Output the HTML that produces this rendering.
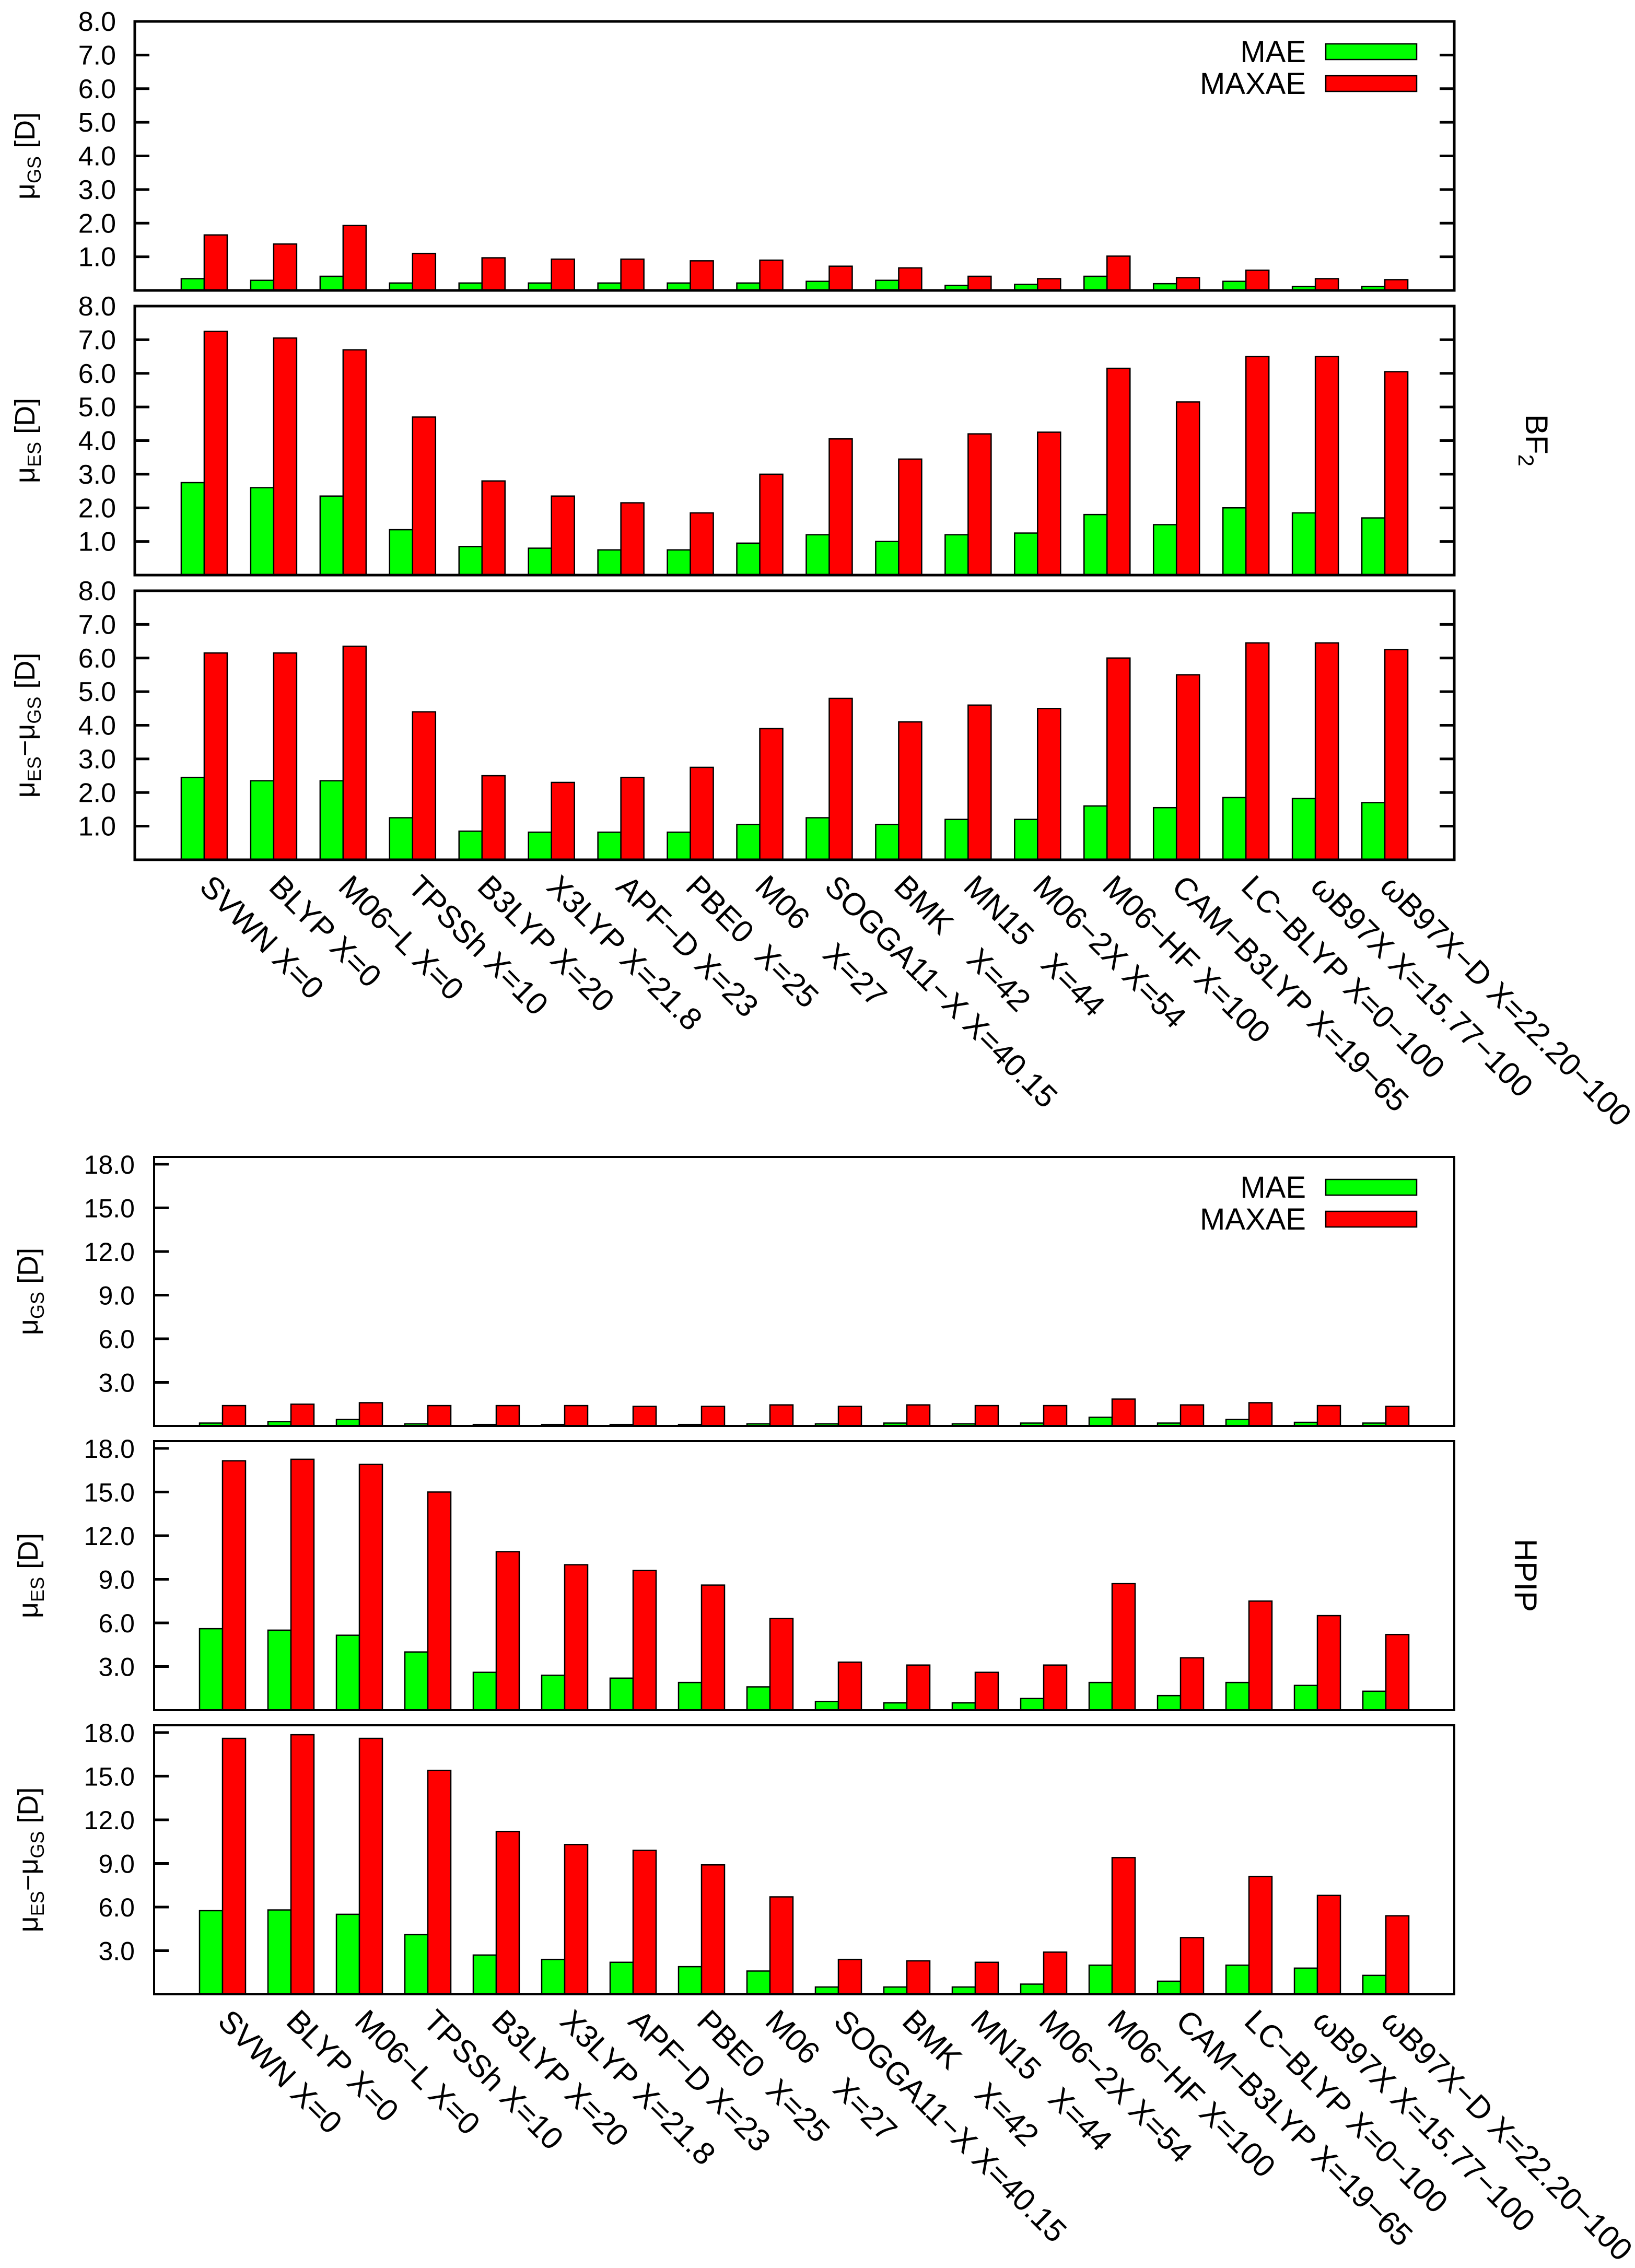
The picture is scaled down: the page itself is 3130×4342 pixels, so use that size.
<!DOCTYPE html>
<html><head><meta charset="utf-8"><style>
html,body{margin:0;padding:0;background:#fff;}
svg{display:block;}
text{font-family:"Liberation Sans","DejaVu Sans",sans-serif;fill:#000;}
</style></head><body>
<svg id="chart" xmlns="http://www.w3.org/2000/svg" width="3130" height="4342" viewBox="0 0 3130 4342"></svg>
<script>
const categories = ["SVWN X=0","BLYP X=0","M06\u2212L X=0","TPSSh X=10","B3LYP X=20","X3LYP X=21.8","APF\u2212D X=23","PBE0  X=25","M06    X=27","SOGGA11\u2212X X=40.15","BMK    X=42","MN15   X=44","M06\u22122X X=54","M06\u2212HF X=100","CAM\u2212B3LYP X=19\u221265","LC\u2212BLYP X=0\u2212100","\u03c9B97X X=15.77\u2212100","\u03c9B97X\u2212D X=22.20\u2212100"];
// BF2
const bf2GsMae   = [0.35,0.30,0.42,0.22,0.22,0.22,0.22,0.22,0.22,0.27,0.30,0.15,0.18,0.42,0.20,0.27,0.12,0.12];
const bf2GsMax   = [1.65,1.38,1.93,1.10,0.97,0.93,0.93,0.88,0.90,0.72,0.67,0.42,0.35,1.02,0.38,0.60,0.35,0.32];
const bf2EsMae   = [2.75,2.60,2.35,1.35,0.85,0.80,0.75,0.75,0.95,1.20,1.00,1.20,1.25,1.80,1.50,2.00,1.85,1.70];
const bf2EsMax   = [7.25,7.05,6.70,4.70,2.80,2.35,2.15,1.85,3.00,4.05,3.45,4.20,4.25,6.15,5.15,6.50,6.50,6.05];
const bf2DiffMae = [2.45,2.35,2.35,1.25,0.85,0.82,0.82,0.82,1.05,1.25,1.05,1.20,1.20,1.60,1.55,1.85,1.82,1.70];
const bf2DiffMax = [6.15,6.15,6.35,4.40,2.50,2.30,2.45,2.75,3.90,4.80,4.10,4.60,4.50,6.00,5.50,6.45,6.45,6.25];
// HPIP
const hpGsMae   = [0.20,0.30,0.45,0.15,0.10,0.10,0.10,0.10,0.15,0.15,0.20,0.15,0.20,0.60,0.20,0.45,0.25,0.20];
const hpGsMax   = [1.40,1.50,1.60,1.40,1.40,1.40,1.35,1.35,1.45,1.35,1.45,1.40,1.40,1.85,1.45,1.60,1.40,1.35];
const hpEsMae   = [5.60,5.50,5.15,4.00,2.60,2.40,2.20,1.90,1.60,0.60,0.50,0.50,0.80,1.90,1.00,1.90,1.70,1.30];
const hpEsMax   = [17.15,17.25,16.90,15.00,10.90,10.00,9.60,8.60,6.30,3.30,3.10,2.60,3.10,8.70,3.60,7.50,6.50,5.20];
const hpDiffMae = [5.75,5.80,5.50,4.10,2.70,2.40,2.20,1.90,1.60,0.50,0.50,0.50,0.70,2.00,0.90,2.00,1.80,1.30];
const hpDiffMax = [17.60,17.85,17.60,15.40,11.20,10.30,9.90,8.90,6.70,2.40,2.30,2.20,2.90,9.40,3.90,8.10,6.80,5.40];
const bf2Ticks = [1,2,3,4,5,6,7,8];
const hpTicks = [3,6,9,12,15,18];

const NS = "http://www.w3.org/2000/svg";
const svg = document.getElementById("chart");
function el(tag, attrs, parent){
  const e = document.createElementNS(NS, tag);
  for (const k in attrs) e.setAttribute(k, attrs[k]);
  (parent||svg).appendChild(e);
  return e;
}

function drawPanel(p){
  const g = el("g", {});
  
  
  const L=p.left, R=2784, T=p.top, B=p.top+515;
  const n = categories.length;
  const step = (R-L)/(n+1);
  const xC = i => L + (i+1)*step;
  const y = v => B - v/p.ymax*(B-T);
  const bw = 44;
  for (let i=0;i<n;i++){
    const gm = el("rect",{x:xC(i)-bw, y:y(p.mae[i]), width:bw, height:B-y(p.mae[i]), fill:"#00ff00", stroke:"#000", "stroke-width":2.5}, g);
    
    
    const rm = el("rect",{x:xC(i), y:y(p.max[i]), width:bw, height:B-y(p.max[i]), fill:"#ff0000", stroke:"#000", "stroke-width":2.5}, g);
    
    
  }
  for (const t of p.ticks){
    const ty = y(t);
    if (Math.abs(ty-T) > 3){
      el("line",{x1:L, x2:L+28, y1:ty, y2:ty, stroke:"#000", "stroke-width":5}, g);
      if (p.mirror) el("line",{x1:R-28, x2:R, y1:ty, y2:ty, stroke:"#000", "stroke-width":5}, g);
    } else if (!p.mirror) {
      el("line",{x1:L, x2:L+28, y1:ty, y2:ty, stroke:"#000", "stroke-width":5}, g);
    }
    const tl = el("text",{x:p.tickRight, y:ty+18, "text-anchor":"end", "font-size":p.tickSize}, g);
    tl.textContent = t.toFixed(1);
    
    
  }
  const fr = el("rect",{x:L, y:T, width:R-L, height:B-T, fill:"none", stroke:"#000", "stroke-width":p.frameW}, g);
  
  
  const cx = p.titleX, cy = (T+B)/2;
  const yt = el("text",{x:cx, y:cy, "text-anchor":"middle", "font-size":54, transform:`rotate(-90 ${cx} ${cy})`}, g);
  
  
  yt.innerHTML = p.title;
  return {xC, B};
}

function legend(top){
  const g = el("g",{});
  
  
  const items = [["MAE","#00ff00",0],["MAXAE","#ff0000",61]];
  for (const [lab,col,dy] of items){
    const t = el("text",{x:2500, y:top+78+dy, "text-anchor":"end", "font-size":58}, g);
    t.textContent = lab;
    
    
    const r = el("rect",{x:2538, y:top+43+dy, width:174, height:30, fill:col, stroke:"#000", "stroke-width":2.5}, g);
    
    
  }
}

function xLabels(xC, B){
  const g = el("g",{});
  
  
  categories.forEach((c,i)=>{
    const x = xC(i)-12, yy = B+55;
    const t = el("text",{x:x, y:yy, "font-size":60, transform:`rotate(45 ${x} ${yy})`}, g);
    t.setAttribute("style","white-space:pre");
    t.textContent = c;
    
    
  });
}

const sub = s => `<tspan>\u03bc</tspan><tspan font-size="36" dy="12">${s}</tspan><tspan dy="-12"> [D]</tspan>`;
const subDiff = `<tspan>\u03bc</tspan><tspan font-size="36" dy="12">ES</tspan><tspan dy="-12">\u2212\u03bc</tspan><tspan font-size="36" dy="12">GS</tspan><tspan dy="-12"> [D]</tspan>`;

const topCommon = {left:258, ymax:8, ticks:bf2Ticks, mirror:true, tickRight:222, tickSize:52, frameW:5, titleX:66};
drawPanel(Object.assign({}, topCommon, {name:"bf2-gs-panel", top:41, mae:bf2GsMae, max:bf2GsMax, title:sub("GS")}));
drawPanel(Object.assign({}, topCommon, {name:"bf2-es-panel", top:586, mae:bf2EsMae, max:bf2EsMax, title:sub("ES")}));
const p3 = drawPanel(Object.assign({}, topCommon, {name:"bf2-diff-panel", top:1131, mae:bf2DiffMae, max:bf2DiffMax, title:subDiff}));
legend(41);
xLabels(p3.xC, p3.B);
const bf = el("text",{x:2921, y:843, "text-anchor":"middle", "font-size":60, transform:"rotate(90 2921 843)"});
bf.innerHTML = 'BF<tspan font-size="42" dy="14">2</tspan>';



const botCommon = {left:295, ymax:18.5, ticks:hpTicks, mirror:false, tickRight:258, tickSize:50, frameW:4, titleX:72};
drawPanel(Object.assign({}, botCommon, {name:"hpip-gs-panel", top:2215, mae:hpGsMae, max:hpGsMax, title:sub("GS")}));
drawPanel(Object.assign({}, botCommon, {name:"hpip-es-panel", top:2759, mae:hpEsMae, max:hpEsMax, title:sub("ES")}));
const p6 = drawPanel(Object.assign({}, botCommon, {name:"hpip-diff-panel", top:3303, mae:hpDiffMae, max:hpDiffMax, title:subDiff}));
legend(2215);
xLabels(p6.xC, p6.B);
const hp = el("text",{x:2900, y:3016, "text-anchor":"middle", "font-size":60, transform:"rotate(90 2900 3016)"});
hp.textContent = "HPIP";


</script>
</body></html>
